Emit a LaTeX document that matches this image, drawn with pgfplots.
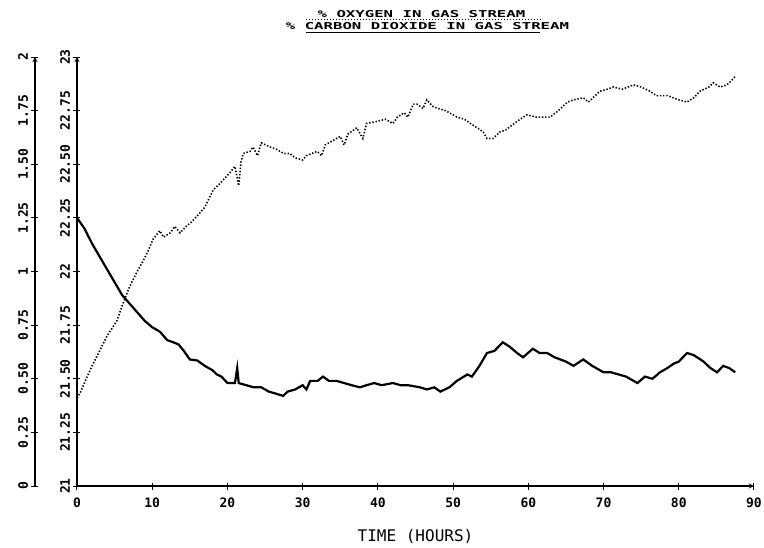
\documentclass[border=0pt]{standalone}
\usepackage{fontspec}
\usepackage{pgfplots}
\pgfplotsset{compat=1.18}
\setmainfont{DejaVu Sans Mono}
\newfontfamily\legfont[FakeStretch=1.65]{DejaVu Sans Mono}

% solid trace, read on the 0-2 scale
\pgfplotstableread{
x y
0 1.25
1 1.20
2 1.13
3 1.07
4 1.01
5 0.95
6 0.89
7 0.85
8 0.81
9 0.77
10 0.74
11 0.72
12 0.68
12.8 0.67
13.5 0.66
14.2 0.63
15 0.59
16 0.585
17 0.56
18 0.54
18.6 0.52
19.2 0.51
20 0.48
21 0.48
21.3 0.55
21.5 0.48
22.5 0.47
23.5 0.46
24.5 0.46
25.5 0.44
26.5 0.43
27.4 0.42
28 0.44
29 0.45
30 0.47
30.5 0.45
31 0.49
32 0.49
32.7 0.51
33.5 0.49
34.5 0.49
35.5 0.48
36.5 0.47
37.6 0.46
38.5 0.47
39.5 0.48
40.5 0.47
42 0.48
43 0.47
44 0.47
45.6 0.46
46.5 0.45
47.5 0.46
48.3 0.44
49.5 0.46
50.5 0.49
51.9 0.52
52.5 0.51
53.5 0.56
54.5 0.62
55.5 0.63
56.6 0.67
57.5 0.65
58.5 0.62
59.3 0.60
60.6 0.64
61.5 0.62
62.5 0.62
63.5 0.60
65 0.58
66 0.56
67.3 0.59
68.5 0.56
70 0.53
71 0.53
72 0.52
73 0.51
74 0.49
74.5 0.48
75.5 0.51
76.5 0.50
77.5 0.53
78.5 0.55
79.3 0.57
80 0.58
81.1 0.62
82 0.61
83.3 0.58
84.2 0.55
85.1 0.53
85.9 0.56
86.7 0.55
87.5 0.53
}\solid

% dotted trace
\pgfplotstableread{
x y
0 0.41
0.5 0.44
1.1 0.49
2 0.56
3 0.63
4 0.70
5.3 0.77
6 0.84
7 0.93
8 1.00
8.8 1.05
9.5 1.10
10.1 1.15
11 1.19
11.5 1.16
12.4 1.18
13 1.21
13.7 1.18
14.5 1.21
15.2 1.23
16 1.26
17 1.30
18.1 1.38
19 1.41
20.3 1.46
21 1.49
21.5 1.40
21.8 1.51
22.1 1.55
23 1.56
23.4 1.58
24 1.54
24.5 1.60
25.7 1.58
26.5 1.57
27.5 1.55
28.3 1.55
29 1.53
30 1.52
30.5 1.54
31.9 1.56
32.5 1.54
33 1.59
34 1.61
35 1.63
35.5 1.59
36 1.64
37.2 1.67
38 1.62
38.5 1.69
39.9 1.70
41 1.71
42 1.69
42.6 1.72
43.5 1.74
44 1.72
44.7 1.78
45.2 1.78
46 1.76
46.5 1.80
47.3 1.77
48 1.76
49 1.75
50.5 1.72
51.5 1.71
52.3 1.69
53.2 1.67
54 1.65
54.5 1.62
55.3 1.62
56.2 1.65
57 1.66
58.5 1.70
59.8 1.73
61 1.72
62.9 1.72
64 1.75
65.2 1.79
66 1.80
67.3 1.81
68 1.79
69.5 1.84
70.5 1.85
71.3 1.86
72.5 1.85
74 1.87
75 1.86
76.2 1.84
77 1.82
78.5 1.82
80 1.80
81.1 1.79
82 1.81
82.8 1.84
84 1.86
84.6 1.88
85.5 1.86
86.4 1.87
87 1.89
87.5 1.91
}\dotted

\begin{document}
\begin{tikzpicture}
\pgfplotsset{
  every axis/.append style={
    scale only axis, width=677pt, height=429pt,
    xmin=0, xmax=90, ymin=0, ymax=2,
    tick align=inside, major tick length=7pt,
    axis line style={line width=1.3pt},
    every tick/.style={line width=1pt, black},
    ytick={0,0.25,...,2},
    yticklabel style={rotate=90, anchor=south, font=\fontsize{13}{15}\selectfont\bfseries},
    /pgf/number format/assume math mode=true,
  }
}
% outer scale 0-2
\begin{axis}[
  axis y line=left, axis y line shift=42pt,
  hide x axis,
  yticklabels={0,0.25,0.50,0.75,1,1.25,1.50,1.75,2},
]
\end{axis}
% inner scale 21-23 and the data
\begin{axis}[
  axis x line=bottom, axis y line=left,
  xtick={0,10,...,90},
  xticklabel style={font=\fontsize{13}{15}\selectfont\bfseries, yshift=-5pt},
  yticklabels={21,21.25,21.50,21.75,22,22.25,22.50,22.75,23},
  xlabel={TIME (HOURS)},
  xlabel style={font=\fontsize{16}{18}\selectfont, yshift=-15pt},
  clip=false,
]
\addplot[black, line width=2.2pt] table {\solid};
\addplot[black, line width=1.6pt, dash pattern=on 1.4pt off 1.8pt] table {\dotted};
\coordinate (o) at (rel axis cs:0,0);
\path (rel axis cs:0.5,1) ++(6pt,39.5pt) node[anchor=base, font=\fontsize{9.5}{11}\legfont\bfseries, inner sep=0pt] {\% OXYGEN IN GAS STREAM};
\path (rel axis cs:0.5,1) ++(12pt,28pt) node[anchor=base, font=\fontsize{9.5}{11}\legfont\bfseries, inner sep=0pt] {\% CARBON DIOXIDE IN GAS STREAM};
\draw[line width=1.2pt, dash pattern=on 1.2pt off 1.8pt] ([yshift=37.5pt]rel axis cs:0.338,1) -- ([yshift=37.5pt]rel axis cs:0.684,1);
\draw[line width=1.5pt] ([yshift=24.5pt]rel axis cs:0.338,1) -- ([yshift=24.5pt]rel axis cs:0.684,1);
\end{axis}
\pgfresetboundingbox
\path (o) ++(-77pt,-61pt) rectangle ++(764pt,547pt);
\end{tikzpicture}
\end{document}
